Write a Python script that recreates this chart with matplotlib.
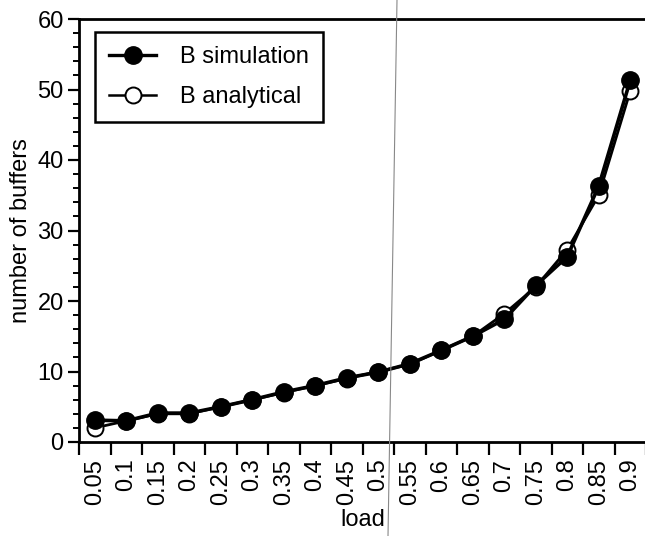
import numpy as np
import matplotlib.pyplot as plt
from matplotlib.lines import Line2D

plt.rcParams['font.family'] = ['Liberation Sans', 'DejaVu Sans']

load = ['0.05', '0.1', '0.15', '0.2', '0.25', '0.3', '0.35', '0.4', '0.45',
        '0.5', '0.55', '0.6', '0.65', '0.7', '0.75', '0.8', '0.85', '0.9']
b_simulation = [3.1, 3.0, 4.1, 4.1, 5.0, 6.0, 7.1, 8.0, 9.1,
                9.9, 11.1, 13.0, 15.0, 17.4, 22.2, 26.3, 36.3, 51.3]
b_analytical = [2.0, 3.0, 4.0, 4.0, 5.0, 6.0, 7.0, 8.0, 9.0,
                10.0, 11.0, 13.0, 15.0, 18.2, 22.0, 27.3, 35.0, 49.8]

x = np.arange(len(load))
fs = 17

fig = plt.figure(figsize=(6.45, 5.36), dpi=100)
ax = fig.add_axes([79/645, 94/536, 567/645, 423/536])

ax.plot(x, b_analytical, color='black', lw=2.0, marker='o', ms=11.5,
        mfc='white', mec='black', mew=1.4, zorder=2)
ax.plot(x, b_simulation, color='black', lw=2.6, marker='o', ms=12.5,
        mfc='black', mec='black', zorder=3)

ax.set_xlim(-0.5, len(load) - 0.5)
ax.set_ylim(0, 60)

# ticks between categories, labels at category centres
ax.set_xticks(np.arange(-0.5, len(load), 1.0))
ax.set_xticklabels([])
ax.set_xticks(x, minor=True)
ax.set_xticklabels(load, minor=True, rotation=90, fontsize=fs)
ax.tick_params(axis='x', which='major', direction='out', length=9, width=1.6)
ax.tick_params(axis='x', which='minor', length=0, pad=12)

ax.set_yticks(np.arange(0, 61, 10))
ax.set_yticks(np.arange(0, 61, 2), minor=True)
ax.tick_params(axis='y', which='major', direction='out', length=8, width=1.6,
               labelsize=fs, pad=3)
ax.tick_params(axis='y', which='minor', direction='out', length=4.5, width=1.4)

for s in ['left', 'bottom', 'top']:
    ax.spines[s].set_linewidth(2)
ax.spines['right'].set_visible(False)

ax.set_xlabel('load', fontsize=fs, labelpad=3)
ax.set_ylabel('number of buffers', fontsize=fs, labelpad=4)

handles = [
    Line2D([], [], color='black', lw=2.4, marker='o', ms=12.5, mfc='black', mec='black'),
    Line2D([], [], color='black', lw=1.8, marker='o', ms=11.5, mfc='white', mec='black', mew=1.4),
]
leg = ax.legend(handles, ['B simulation', 'B analytical'], loc='upper left',
                bbox_to_anchor=(0.028, 0.969), borderaxespad=0, fontsize=fs,
                fancybox=False, framealpha=1, edgecolor='black',
                handlelength=2.0, handletextpad=1.0, labelspacing=0.75,
                borderpad=0.6)
leg.get_frame().set_linewidth(1.8)

# faint fold line from the scanned page
fig.add_artist(Line2D([397/645, 388/645], [1, 0], color='#888888', lw=0.8,
                      transform=fig.transFigure))

fig.savefig('out.png', dpi=100)
